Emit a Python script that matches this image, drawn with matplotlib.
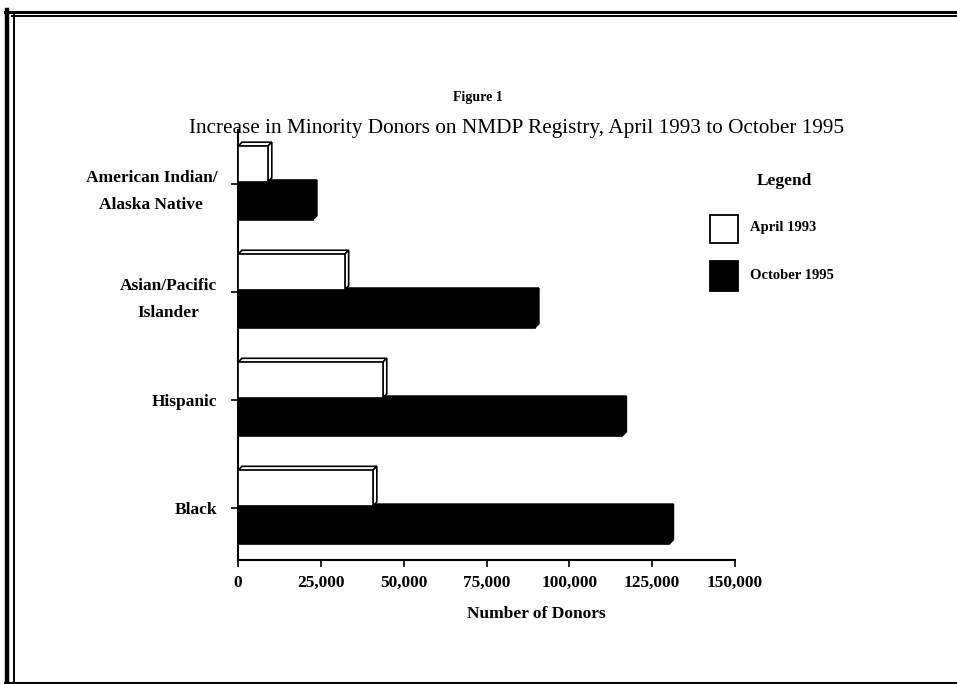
import matplotlib
matplotlib.use("Agg")
import matplotlib.pyplot as plt
from matplotlib.patches import Polygon, Rectangle
from matplotlib.lines import Line2D

plt.rcParams["font.family"] = ["Liberation Serif", "DejaVu Serif"]

# data
groups = ["Black", "Hispanic", "Asian/Pacific\nIslander", "American Indian/\nAlaska Native"]
april_1993 = [40700, 43700, 32200, 9000]
october_1995 = [130200, 116000, 89600, 22600]
x_ticks = [0, 25000, 50000, 75000, 100000, 125000, 150000]

fig = plt.figure(figsize=(9.57, 6.84), dpi=100)
ax = fig.add_axes([238 / 957, 124 / 684, 497 / 957, 430 / 684])

bar_h = 0.33
dx, dy = 1200, 0.037


def bar3d(ax, y0, width, face):
    # front face plus a thin top and side face to mimic the 3-D look
    ax.add_patch(Rectangle((0, y0), width, bar_h, facecolor=face,
                           edgecolor="black", lw=1.2, zorder=3))
    top = [(0, y0 + bar_h), (width, y0 + bar_h),
           (width + dx, y0 + bar_h + dy), (dx, y0 + bar_h + dy)]
    side = [(width, y0), (width + dx, y0 + dy),
            (width + dx, y0 + bar_h + dy), (width, y0 + bar_h)]
    ax.add_patch(Polygon(top, closed=True, facecolor=face, edgecolor="black",
                         lw=1.2, zorder=2))
    ax.add_patch(Polygon(side, closed=True, facecolor=face, edgecolor="black",
                         lw=1.2, zorder=2))


for i, (a, o) in enumerate(zip(april_1993, october_1995)):
    bar3d(ax, i + 0.02, a, "white")
    bar3d(ax, i - 0.33, o, "black")

ax.set_xlim(0, 150000)
ax.set_ylim(-0.48, 3.5)
ax.set_yticks(range(len(groups)))
ax.set_yticklabels(groups, fontsize=12.5, fontweight="bold",
                   multialignment="center", linespacing=1.9)
ax.set_xticks(x_ticks)
ax.set_xticklabels([f"{v:,}" for v in x_ticks], fontsize=12.5, fontweight="bold")
ax.tick_params(axis="both", direction="out", length=5, width=1.2, pad=6)
ax.tick_params(axis="y", pad=10)
for s in ["top", "right"]:
    ax.spines[s].set_visible(False)
for s in ["left", "bottom"]:
    ax.spines[s].set_linewidth(1.5)

fig.text(478 / 957, 1 - 97 / 684, "Figure 1", ha="center", va="center",
         fontsize=10, fontweight="bold")
fig.text(517 / 957, 1 - 128 / 684,
         "Increase in Minority Donors on NMDP Registry, April 1993 to October 1995",
         ha="center", va="center", fontsize=15.3)
fig.text(536 / 957, 1 - 614 / 684, "Number of Donors", ha="center", va="center",
         fontsize=12.5, fontweight="bold")

# legend drawn by hand
fig.text(784 / 957, 1 - 181 / 684, "Legend", ha="center", va="center",
         fontsize=12.5, fontweight="bold")
fig.patches.append(Rectangle((710 / 957, 1 - 243 / 684), 28 / 957, 28 / 684,
                             transform=fig.transFigure, facecolor="white",
                             edgecolor="black", lw=1.3))
fig.patches.append(Rectangle((710 / 957, 1 - 291 / 684), 28 / 957, 30 / 684,
                             transform=fig.transFigure, facecolor="black",
                             edgecolor="black", lw=1.3))
fig.text(750 / 957, 1 - 227 / 684, "April 1993", ha="left", va="center",
         fontsize=10.5, fontweight="bold")
fig.text(750 / 957, 1 - 276 / 684, "October 1995", ha="left", va="center",
         fontsize=10.5, fontweight="bold")

# double frame around the page
def hline(y, x0, x1, lw):
    fig.lines.append(Line2D([x0 / 957, x1 / 957], [1 - y / 684, 1 - y / 684],
                            transform=fig.transFigure, color="black", lw=lw))


def vline(x, y0, y1, lw):
    fig.lines.append(Line2D([x / 957, x / 957], [1 - y0 / 684, 1 - y1 / 684],
                            transform=fig.transFigure, color="black", lw=lw))


hline(11.5, 5, 957, 2.2)
hline(16, 12, 957, 1.4)
vline(7, 10, 684, 3.2)
vline(13.5, 15, 684, 1.4)
hline(682.5, 5, 957, 2.2)

fig.savefig("out.png", dpi=100)
